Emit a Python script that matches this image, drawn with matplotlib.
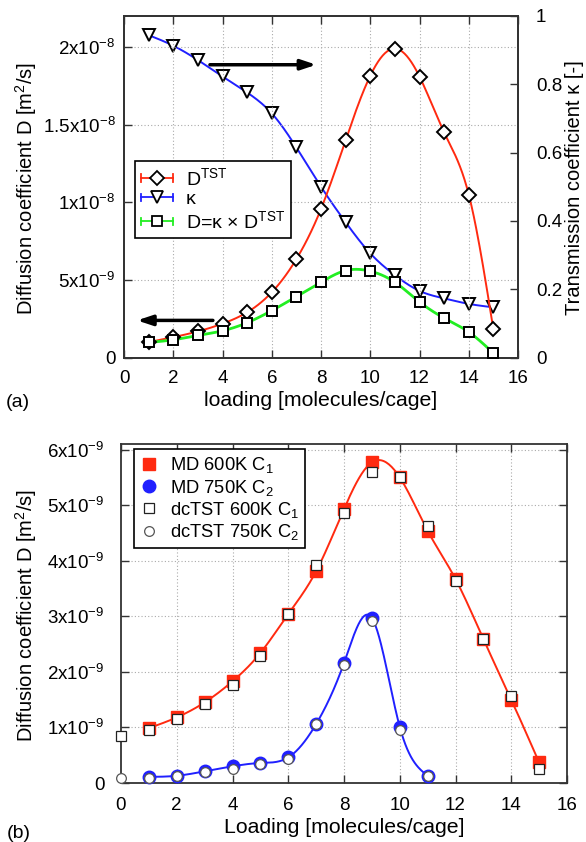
import numpy as np
import matplotlib
matplotlib.use("Agg")
import matplotlib.pyplot as plt
from matplotlib.lines import Line2D
from matplotlib.legend_handler import HandlerLine2D

plt.rcParams['font.family'] = ['Liberation Sans', 'DejaVu Sans']
plt.rcParams['mathtext.fontset'] = 'custom'
plt.rcParams['mathtext.rm'] = 'Liberation Sans'
plt.rcParams['mathtext.it'] = 'Liberation Sans:italic'
plt.rcParams['mathtext.bf'] = 'Liberation Sans:bold'

# ---------------- data: panel (a) ----------------
loading_a = [1, 2, 3, 4, 5, 6, 7, 8, 9, 10, 11, 12, 13, 14, 15]
d_tst = [0.99e-9, 1.31e-9, 1.68e-9, 2.18e-9, 2.91e-9, 4.2e-9, 6.34e-9, 9.57e-9,
         1.40e-8, 1.815e-8, 1.99e-8, 1.81e-8, 1.45e-8, 1.05e-8, 1.81e-9]
kappa = [0.944, 0.913, 0.871, 0.823, 0.776, 0.715, 0.615, 0.500, 0.396, 0.305,
         0.241, 0.195, 0.173, 0.157, 0.147]
d_kappa = [0.97e-9, 1.14e-9, 1.42e-9, 1.72e-9, 2.24e-9, 3.02e-9, 3.92e-9, 4.85e-9,
           5.60e-9, 5.56e-9, 4.85e-9, 3.58e-9, 2.54e-9, 1.64e-9, 0.28e-9]

# ---------------- data: panel (b) ----------------
md600_x = [1, 2, 3, 4, 5, 6, 7, 8, 9, 10, 11, 12, 13, 14, 15]
md600_y = [0.988e-9, 1.18e-9, 1.45e-9, 1.83e-9, 2.34e-9, 3.04e-9, 3.81e-9, 4.93e-9,
           5.77e-9, 5.50e-9, 4.54e-9, 3.67e-9, 2.59e-9, 1.50e-9, 0.37e-9]
tst600_x = [0, 1, 2, 3, 4, 5, 6, 7, 8, 9, 10, 11, 12, 13, 14, 15]
tst600_y = [0.85e-9, 0.96e-9, 1.16e-9, 1.43e-9, 1.76e-9, 2.28e-9, 3.04e-9, 3.92e-9,
            4.85e-9, 5.60e-9, 5.50e-9, 4.62e-9, 3.63e-9, 2.60e-9, 1.57e-9, 0.25e-9]
md750_x = [1, 2, 3, 4, 5, 6, 7, 8, 9, 10, 11]
md750_y = [0.11e-9, 0.13e-9, 0.21e-9, 0.30e-9, 0.36e-9, 0.46e-9, 1.06e-9, 2.16e-9,
           2.97e-9, 1.01e-9, 0.13e-9]
tst750_x = [0, 1, 2, 3, 4, 5, 6, 7, 8, 9, 10, 11]
tst750_y = [0.09e-9, 0.09e-9, 0.12e-9, 0.19e-9, 0.25e-9, 0.34e-9, 0.44e-9, 1.06e-9,
            2.13e-9, 2.92e-9, 0.95e-9, 0.13e-9]

xticks = [0, 2, 4, 6, 8, 10, 12, 14, 16]
ya_ticks = [0, 5e-9, 1e-8, 1.5e-8, 2e-8]
ya_labels = ['0', r'$\mathrm{5x10}^{-9}$', r'$\mathrm{1x10}^{-8}$',
             r'$\mathrm{1.5x10}^{-8}$', r'$\mathrm{2x10}^{-8}$']
ya2_ticks = [0, 0.2, 0.4, 0.6, 0.8, 1]
ya2_labels = ['0', '0.2', '0.4', '0.6', '0.8', '1']
yb_ticks = [0, 1e-9, 2e-9, 3e-9, 4e-9, 5e-9, 6e-9]
yb_labels = ['0'] + [r'$\mathrm{%dx10}^{-9}$' % i for i in range(1, 7)]


def natural_spline(x, y, n=300):
    x = np.asarray(x, float)
    y = np.asarray(y, float)
    m = len(x)
    h = np.diff(x)
    A = np.zeros((m, m))
    b = np.zeros(m)
    A[0, 0] = 1
    A[-1, -1] = 1
    for i in range(1, m - 1):
        A[i, i - 1] = h[i - 1]
        A[i, i] = 2 * (h[i - 1] + h[i])
        A[i, i + 1] = h[i]
        b[i] = 3 * ((y[i + 1] - y[i]) / h[i] - (y[i] - y[i - 1]) / h[i - 1])
    c = np.linalg.solve(A, b)
    bc = (y[1:] - y[:-1]) / h - h * (2 * c[:-1] + c[1:]) / 3
    d = (c[1:] - c[:-1]) / (3 * h)
    xs = np.linspace(x[0], x[-1], n)
    idx = np.clip(np.searchsorted(x, xs) - 1, 0, m - 2)
    dx = xs - x[idx]
    ys = y[idx] + bc[idx] * dx + c[idx] * dx ** 2 + d[idx] * dx ** 3
    return xs, ys


class CapHandler(HandlerLine2D):
    def create_artists(self, legend, orig_handle, xdescent, ydescent, width,
                       height, fontsize, trans):
        arts = super().create_artists(legend, orig_handle, xdescent, ydescent,
                                      width, height, fontsize, trans)
        yc = height / 2 - ydescent
        caps = []
        for xx in (-xdescent, -xdescent + width):
            cap = Line2D([xx, xx], [yc - height * 0.28, yc + height * 0.28],
                         color=orig_handle.get_color(), lw=1.3)
            cap.set_transform(trans)
            caps.append(cap)
        return caps + arts


RED = '#ff2a10'
BLUE = '#2020ff'
GREEN = '#22ee22'
FS_TICK = 13.5
FS_XL = 15.3
FS_YL = 14.5
FS_LEGA = 14
FS_LEGB = 13.2
SPINE = '#333333'
GRID = dict(color='#aaaaaa', lw=0.8, linestyle=(0, (1, 2)))

fig = plt.figure(figsize=(5.86, 8.42), dpi=100)

# ================= panel (a) =================
ax = fig.add_axes([124 / 586, 1 - 357.5 / 842, (518 - 124) / 586, (357.5 - 16) / 842])
ax2 = ax.twinx()
ax.set_xlim(0, 16)
ax.set_ylim(0, 2.2e-8)
ax2.set_ylim(0, 1)
ax.set_zorder(ax2.get_zorder() + 1)
ax.patch.set_visible(False)

for gx in xticks[1:-1]:
    ax.axvline(gx, zorder=0, **GRID)
for gy in ya_ticks[1:]:
    ax.axhline(gy, zorder=0, **GRID)

xs, ys = natural_spline(loading_a, kappa)
ax2.plot(xs, ys, color=BLUE, lw=1.4, zorder=2)
ax2.plot(loading_a, kappa, ls='none', marker='v', ms=9, mfc='white', mec='black',
         mew=1.4, zorder=3, clip_on=False)

xs, ys = natural_spline(loading_a, d_tst)
ax.plot(xs, ys, color=RED, lw=1.4, zorder=2)
xs, ys = natural_spline(loading_a, d_kappa)
ax.plot(xs, ys, color=GREEN, lw=2.0, zorder=2)
ax.plot(loading_a, d_tst, ls='none', marker='D', ms=7.5, mfc='white', mec='black',
        mew=1.4, zorder=4, clip_on=False)
ax.plot(loading_a, d_kappa, ls='none', marker='s', ms=7.5, mfc='white', mec='black',
        mew=1.4, zorder=4, clip_on=False)

ax.annotate('', xy=(7.81, 1.886e-8), xytext=(3.49, 1.886e-8),
            arrowprops=dict(arrowstyle='-|>,head_length=0.9,head_width=0.3',
                            color='black', lw=2.5, shrinkA=0, shrinkB=0), zorder=5)
ax.annotate('', xy=(0.53, 2.39e-9), xytext=(3.61, 2.39e-9),
            arrowprops=dict(arrowstyle='-|>,head_length=0.9,head_width=0.3',
                            color='black', lw=2.5, shrinkA=0, shrinkB=0), zorder=5)

ax.set_xticks(xticks)
ax.set_xticklabels([str(t) for t in xticks])
ax.set_yticks(ya_ticks)
ax.set_yticklabels(ya_labels)
ax2.set_yticks(ya2_ticks)
ax2.set_yticklabels(ya2_labels)
ax.tick_params(axis='both', direction='in', length=6, width=1, labelsize=FS_TICK,
               top=True, right=False, color=SPINE)
ax.tick_params(axis='x', pad=9)
ax.tick_params(axis='y', pad=6)
ax2.tick_params(axis='y', direction='in', length=6, width=1, labelsize=FS_TICK,
                pad=13, color=SPINE)
for a in (ax, ax2):
    for s in a.spines.values():
        s.set_linewidth(1.3)
        s.set_color(SPINE)

ax.set_xlabel('loading [molecules/cage]', fontsize=FS_XL, labelpad=3)
fig.text(26 / 586, 1 - 188 / 842, r'Diffusion coefficient D [m$^{2}$/s]',
         fontsize=FS_YL, rotation=90, ha='center', va='center')
fig.text(574 / 586, 1 - 188 / 842, 'Transmission coefficient κ [-]',
         fontsize=FS_YL, rotation=90, ha='center', va='center')

h1 = Line2D([], [], color=RED, lw=1.3, marker='D', ms=7, mfc='white', mec='black', mew=1.3)
h2 = Line2D([], [], color=BLUE, lw=1.3, marker='v', ms=8.5, mfc='white', mec='black', mew=1.3)
h3 = Line2D([], [], color=GREEN, lw=1.3, marker='s', ms=7, mfc='white', mec='black', mew=1.3)
leg = ax.legend([h1, h2, h3],
                [r'D$^{\mathrm{TST}}$', 'κ', r'D=κ × D$^{\mathrm{TST}}$'],
                handler_map={Line2D: CapHandler(numpoints=1)},
                loc='upper left', bbox_to_anchor=(135 / 586, 1 - 161 / 842),
                bbox_transform=fig.transFigure, borderaxespad=0, fontsize=FS_LEGA,
                frameon=True, fancybox=False, framealpha=1, edgecolor='black',
                handlelength=1.65, handletextpad=0.65, labelspacing=0.1,
                borderpad=0.3)
leg.get_frame().set_linewidth(1.2)
leg.set_zorder(10)

fig.text(18 / 586, 1 - 402 / 842, '(a)', fontsize=FS_LEGA, ha='center', va='center')

# ================= panel (b) =================
bx = fig.add_axes([121 / 586, 1 - 783 / 842, (567 - 121) / 586, (783 - 444) / 842])
bx.set_xlim(0, 16)
bx.set_ylim(0, 6.1e-9)
for gx in xticks[1:-1]:
    bx.axvline(gx, zorder=0, **GRID)
for gy in yb_ticks[1:]:
    bx.axhline(gy, zorder=0, **GRID)

xs, ys = natural_spline(md600_x, md600_y)
bx.plot(xs, ys, color=RED, lw=1.4, zorder=2)
xs, ys = natural_spline(md750_x, md750_y)
bx.plot(xs, ys, color=BLUE, lw=1.4, zorder=2)
bx.plot(md600_x, md600_y, ls='none', marker='s', ms=8.5, mfc=RED, mec=RED,
        zorder=3, clip_on=False, label=r'MD 600K C$_1$')
bx.plot(md750_x, md750_y, ls='none', marker='o', ms=9, mfc=BLUE, mec=BLUE,
        zorder=3, clip_on=False, label=r'MD 750K C$_2$')
bx.plot(tst600_x, tst600_y, ls='none', marker='s', ms=6.5, mfc='white', mec='#222222',
        mew=0.9, zorder=4, clip_on=False, label=r'dcTST 600K C$_1$')
bx.plot(tst750_x, tst750_y, ls='none', marker='o', ms=7, mfc='white', mec='#555555',
        mew=0.9, zorder=4, clip_on=False, label=r'dcTST 750K C$_2$')

bx.set_xticks(xticks)
bx.set_xticklabels([str(t) for t in xticks])
bx.set_yticks(yb_ticks)
bx.set_yticklabels(yb_labels)
bx.tick_params(axis='both', direction='in', length=6, width=1, labelsize=FS_TICK,
               top=True, right=True, color=SPINE)
bx.tick_params(axis='x', pad=10)
bx.tick_params(axis='y', pad=12)
for s in bx.spines.values():
    s.set_linewidth(1.3)
    s.set_color(SPINE)
bx.set_xlabel('Loading [molecules/cage]', fontsize=FS_XL, labelpad=3)
fig.text(26 / 586, 1 - 615 / 842, r'Diffusion coefficient D [m$^{2}$/s]',
         fontsize=FS_YL, rotation=90, ha='center', va='center')

legb = bx.legend(loc='upper left', bbox_to_anchor=(134 / 586, 1 - 449 / 842),
                 bbox_transform=fig.transFigure, borderaxespad=0, fontsize=FS_LEGB,
                 frameon=True, fancybox=False, framealpha=1, edgecolor='black',
                 handlelength=0.9, handletextpad=0.7, labelspacing=0.12,
                 borderpad=0.35, numpoints=1)
legb.get_frame().set_linewidth(1.2)
legb.set_zorder(10)

fig.text(19 / 586, 1 - 833 / 842, '(b)', fontsize=FS_LEGA, ha='center', va='center')

fig.savefig('out.png', dpi=100)
